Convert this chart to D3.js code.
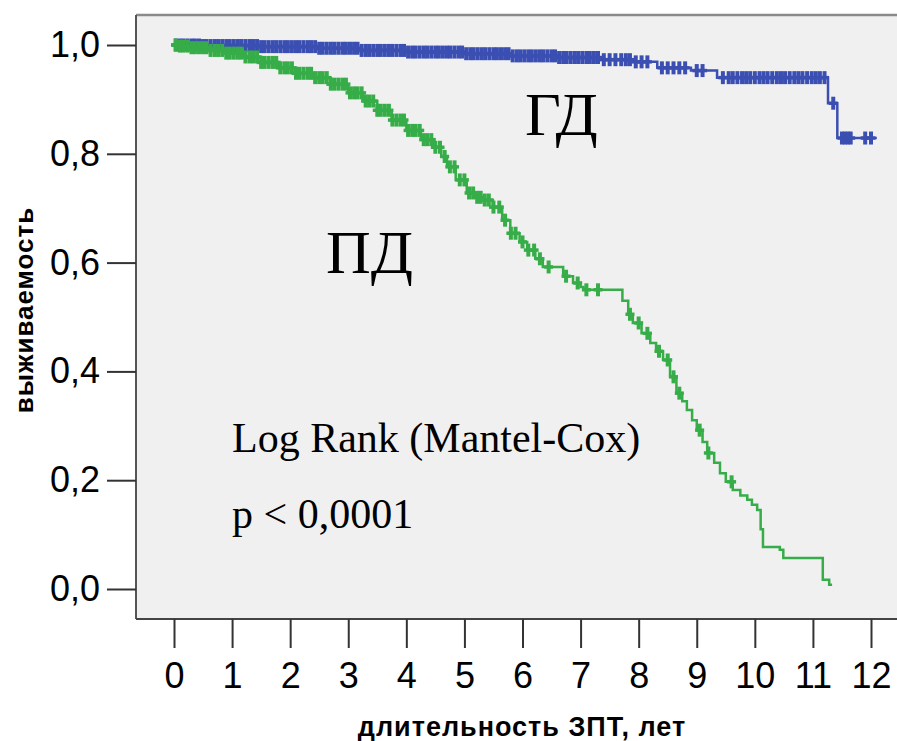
<!DOCTYPE html>
<html>
<head>
<meta charset="utf-8">
<script src="https://cdn.jsdelivr.net/npm/d3@7"></script>
<style>
  body { margin: 0; background: #fff; }
  svg { display: block; }
</style>
</head>
<body>
<div class="chart"></div>
<script>
// survival steps (years, survival share)
var gdTimes = [0, 0.5, 1.5, 2.5, 3.2, 4.0, 5.0, 5.8, 6.6, 7.4, 7.9, 8.32, 8.9, 9.35, 11.26, 11.42];
var gdSurv  = [1.0, 0.999, 0.997, 0.994, 0.99, 0.987, 0.984, 0.98, 0.977, 0.973, 0.969, 0.958, 0.953, 0.94, 0.893, 0.829];
var gdEnd = 12.1;
var gdCensor = [0.03,0.1,0.16,0.23,0.3,0.36,0.43,0.5,0.56,0.63,0.7,0.76,0.83,0.9,0.96,1.03,1.1,1.16,1.23,1.3,
  1.36,1.43,1.5,1.56,1.63,1.7,1.76,1.83,1.9,1.96,2.03,2.1,2.16,2.23,2.3,2.36,2.43,2.5,2.56,2.63,2.7,2.76,2.83,
  2.9,2.96,3.03,3.1,3.16,3.23,3.3,3.36,3.43,3.5,3.56,3.63,3.7,3.76,3.83,3.9,3.96,4.03,4.1,4.16,4.23,4.3,4.36,
  4.43,4.5,4.56,4.63,4.7,4.76,4.83,4.9,4.96,5.03,5.1,5.16,5.23,5.3,5.36,5.43,5.5,5.56,5.63,5.7,5.76,5.83,5.9,
  5.96,6.03,6.1,6.16,6.23,6.3,6.36,6.43,6.5,6.56,6.63,6.7,6.76,6.83,6.9,6.96,7.03,7.1,7.16,7.23,7.3,7.4,7.5,
  7.6,7.7,7.78,7.85,7.95,8.05,8.15,8.4,8.5,8.6,8.7,8.8,9.0,9.1,9.45,9.55,9.62,9.7,9.78,9.85,9.92,10.0,10.08,
  10.15,10.22,10.3,10.38,10.45,10.52,10.6,10.68,10.75,10.82,10.9,10.98,11.05,11.12,11.2,11.35,11.5,11.55,11.6,
  11.65,11.9,12.0];

var pdTimes = [0, 0.1, 0.3, 0.6, 0.9, 1.2, 1.5, 1.8, 2.1, 2.4, 2.7, 3.0, 3.25, 3.5, 3.75, 4.0, 4.25, 4.46, 4.6,
  4.7, 4.85, 5.04, 5.2, 5.32, 5.49, 5.65, 5.79, 5.95, 6.08, 6.22, 6.35, 6.7, 6.87, 7.0, 7.05, 7.72, 7.82, 7.9,
  8.05, 8.2, 8.3, 8.42, 8.54, 8.65, 8.75, 8.83, 8.92, 9.0, 9.1, 9.18, 9.3, 9.4, 9.5, 9.62, 9.75, 9.87, 9.95,
  10.04, 10.1, 10.14, 10.43, 10.49, 11.17, 11.28];
var pdSurv  = [1.0, 0.998, 0.995, 0.99, 0.985, 0.978, 0.968, 0.958, 0.948, 0.94, 0.928, 0.912, 0.897, 0.88,
  0.862, 0.843, 0.826, 0.812, 0.795, 0.776, 0.752, 0.728, 0.72, 0.715, 0.702, 0.678, 0.654, 0.638, 0.623, 0.607,
  0.592, 0.575, 0.5625, 0.555, 0.55, 0.53, 0.505, 0.489, 0.47, 0.452, 0.437, 0.421, 0.39, 0.36, 0.345, 0.329,
  0.31, 0.292, 0.27, 0.25, 0.232, 0.213, 0.197, 0.182, 0.172, 0.164, 0.155, 0.145, 0.11, 0.077, 0.072, 0.057,
  0.017, 0.008];
var pdEnd = 11.33;
var pdCensor = [0.03,0.1,0.16,0.23,0.3,0.36,0.43,0.5,0.56,0.63,0.7,0.76,0.83,0.9,0.96,1.03,1.1,1.16,1.23,1.3,
  1.36,1.43,1.5,1.56,1.63,1.7,1.76,1.83,1.9,1.96,2.03,2.1,2.16,2.23,2.3,2.36,2.43,2.5,2.56,2.63,2.7,2.76,2.83,
  2.9,2.96,3.03,3.1,3.16,3.23,3.3,3.36,3.43,3.5,3.56,3.63,3.7,3.76,3.83,3.9,3.96,4.03,4.1,4.16,4.23,4.3,4.36,
  4.43,4.5,4.58,4.66,4.75,4.83,4.92,5.0,5.08,5.15,5.22,5.28,5.35,5.42,5.5,5.6,5.7,5.8,5.88,6.0,6.1,6.2,6.3,
  6.45,6.75,6.95,7.1,7.3,7.85,8.0,8.15,8.35,8.5,8.6,8.7,9.05,9.2,9.6];

var xTicks = [0,1,2,3,4,5,6,7,8,9,10,11,12];
var yTicks = [0, 0.2, 0.4, 0.6, 0.8, 1.0];

var w = 897, h = 741;
var svg = d3.select(".chart").append("svg").attr("width", w).attr("height", h);

var x = d3.scaleLinear().domain([0, 12]).range([174, 871]);
var y = d3.scaleLinear().domain([0, 1]).range([589, 45]);

// plot frame
svg.append("rect").attr("x", 136).attr("y", 15).attr("width", 780).attr("height", 604).attr("fill", "#f0f0f0");
svg.append("line").attr("x1", 136).attr("x2", 900).attr("y1", 15).attr("y2", 15).attr("stroke", "#8a8a8a").attr("stroke-width", 2.5);
svg.append("line").attr("x1", 136).attr("x2", 136).attr("y1", 15).attr("y2", 619).attr("stroke", "#555").attr("stroke-width", 2);
svg.append("line").attr("x1", 136).attr("x2", 900).attr("y1", 619).attr("y2", 619).attr("stroke", "#444").attr("stroke-width", 2);

var fmt = function(d) { return d3.format(".1f")(d).replace(".", ","); };

var yAxis = svg.append("g").attr("transform", "translate(136,0)")
  .call(d3.axisLeft(y).tickValues(yTicks).tickSize(29).tickPadding(7).tickFormat(fmt));
var xAxis = svg.append("g").attr("transform", "translate(0,619)")
  .call(d3.axisBottom(x).tickValues(xTicks).tickSize(29).tickPadding(14));
[yAxis, xAxis].forEach(function(g) {
  g.select(".domain").remove();
  g.selectAll(".tick line").attr("stroke", "#333").attr("stroke-width", 2);
  g.selectAll(".tick text").attr("font-family", "Liberation Sans, Arial, sans-serif").attr("font-size", 36).attr("fill", "#000");
});

// axis titles
svg.append("text").attr("transform", "translate(33,310) rotate(-90)").attr("text-anchor", "middle")
  .attr("font-family", "Liberation Sans, Arial, sans-serif").attr("font-weight", "bold").attr("font-size", 26)
  .attr("letter-spacing", 1).text("выживаемость");
svg.append("text").attr("x", 522).attr("y", 736).attr("text-anchor", "middle")
  .attr("font-family", "Liberation Sans, Arial, sans-serif").attr("font-weight", "bold").attr("font-size", 27)
  .attr("letter-spacing", 1).text("длительность ЗПТ, лет");

function drawCurve(times, surv, end, censor, color) {
  var pts = times.map(function(t, i) { return [t, surv[i]]; });
  pts.push([end, surv[surv.length - 1]]);
  var line = d3.line().x(function(d) { return x(d[0]); }).y(function(d) { return y(d[1]); }).curve(d3.curveStepAfter);
  svg.append("path").datum(pts).attr("d", line).attr("fill", "none").attr("stroke", color).attr("stroke-width", 2.5);

  var bis = d3.bisector(function(d) { return d; }).right;
  var marks = svg.append("g").selectAll("g").data(censor).enter().append("g")
    .attr("transform", function(t) { return "translate(" + x(t) + "," + y(surv[bis(times, t) - 1]) + ")"; });
  marks.append("line").attr("x1", -4.5).attr("x2", 4.5).attr("y1", 0).attr("y2", 0).attr("stroke", color).attr("stroke-width", 3.5);
  marks.append("line").attr("x1", 0).attr("x2", 0).attr("y1", -6.5).attr("y2", 6.5).attr("stroke", color).attr("stroke-width", 4);
}

drawCurve(gdTimes, gdSurv, gdEnd, gdCensor, "#3b4fb2");
drawCurve(pdTimes, pdSurv, pdEnd, pdCensor, "#36ad48");

// annotations
var serif = "Liberation Serif, Times New Roman, serif";
svg.append("text").attr("x", 525).attr("y", 135).attr("font-family", serif).attr("font-size", 62).text("ГД");
svg.append("text").attr("x", 326).attr("y", 273).attr("font-family", serif).attr("font-size", 62).text("ПД");
svg.append("text").attr("x", 232).attr("y", 452).attr("font-family", serif).attr("font-size", 42).text("Log Rank (Mantel-Cox)");
svg.append("text").attr("x", 232).attr("y", 528).attr("font-family", serif).attr("font-size", 42).text("p < 0,0001");
</script>
</body>
</html>
